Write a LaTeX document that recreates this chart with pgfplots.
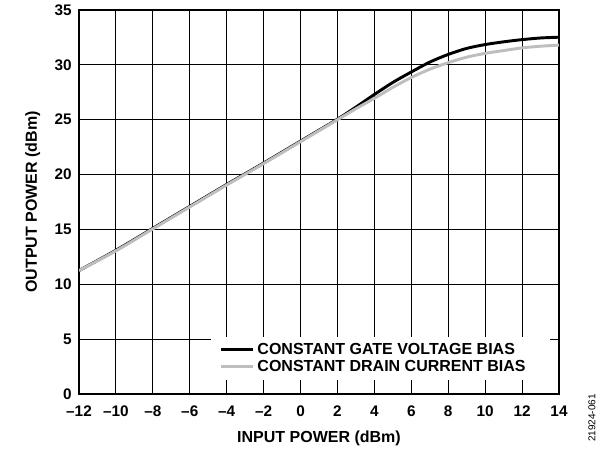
\documentclass[border=0pt]{standalone}
\usepackage{fontspec}
\setmainfont{Liberation Sans}
\usepackage{pgfplots}
\pgfplotsset{compat=1.18}
\definecolor{lgray}{RGB}{190,190,190}
\begin{document}
\begin{tikzpicture}
\path[use as bounding box] (0,0) rectangle (449.25pt,337.5pt);
\begin{axis}[
  at={(59.25pt,42pt)}, anchor=south west,
  scale only axis, width=360pt, height=288pt,
  xmin=-12, xmax=14, ymin=0, ymax=35,
  xtick={-12,-10,...,14}, ytick={0,5,...,35},
  xticklabels={–12,–10,–8,–6,–4,–2,0,2,4,6,8,10,12,14},
  major tick length=0pt,
  grid=major,
  major grid style={black, line width=0.8pt},
  axis line style={black, line width=1.2pt},
  /pgf/number format/assume math mode=true,
  ticklabel style={font=\fontsize{11.5}{13}\selectfont\bfseries},
  xticklabel style={yshift=-5pt, text height=8.5pt, text depth=0pt},
  yticklabel style={xshift=-2pt},
  xlabel={INPUT POWER (dBm)},
  ylabel={OUTPUT POWER (dBm)},
  label style={font=\fontsize{12}{13}\selectfont\bfseries},
  xlabel style={yshift=-4pt},
  ylabel style={yshift=4pt},
  legend style={at={(0.981,0.0365)}, anchor=south east, draw=none, fill=white,
    font=\fontsize{12}{12}\selectfont\bfseries, row sep=-1.5pt, inner xsep=7pt, inner ysep=3pt},
  legend image code/.code={\draw[#1] (0pt,0pt) -- (24pt,0pt);},
  legend cell align=left,
  clip=true,
]
\addplot[black, line width=2.2pt, smooth] coordinates {
(-12,11.25) (-10,13.1) (-8,15.1) (-6,17.1) (-4,19.1) (-2,21.05) (0,23.05) (2,25.05)
(3,26.15) (4,27.3) (5,28.4) (6,29.35) (7,30.25) (8,30.95) (9,31.5) (10,31.85) (11,32.1) (12,32.3) (13,32.45) (14,32.52)};
\addlegendentry{CONSTANT GATE VOLTAGE BIAS\hspace*{9pt}}
\addplot[lgray, line width=2.2pt, smooth] coordinates {
(-12,11.25) (-10,13.05) (-8,15.05) (-6,17.05) (-4,19.05) (-2,21.0) (0,23.0) (2,25.0)
(3,26.0) (4,26.95) (5,27.95) (6,28.85) (7,29.6) (8,30.2) (9,30.7) (10,31.05) (11,31.3) (12,31.55) (13,31.7) (14,31.8)};
\addlegendentry{CONSTANT DRAIN CURRENT BIAS\hspace*{9pt}}
\end{axis}
\node[rotate=90, font=\fontsize{7.5}{8}\selectfont] at (444pt,24pt) {21924-061};
\end{tikzpicture}
\end{document}
